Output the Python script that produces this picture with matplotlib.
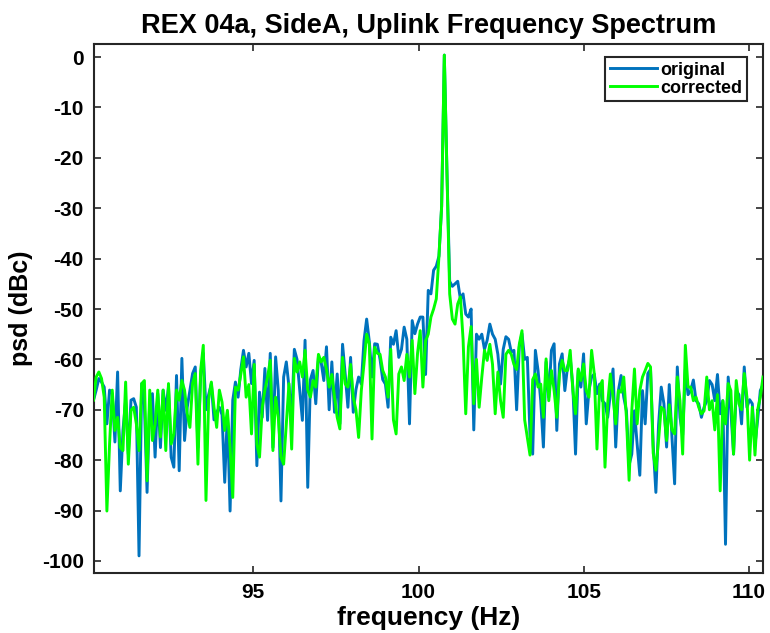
import numpy as np
import matplotlib
matplotlib.use("Agg")
import matplotlib.pyplot as plt

plt.rcParams['font.family'] = ['Liberation Sans', 'DejaVu Sans']
plt.rcParams['font.weight'] = 'bold'
plt.rcParams['axes.unicode_minus'] = False

# ---- data ----
f_start, f_stop = 90.16, 110.43

original = [
    -68.1, -66.1, -63.8, -64.5, -65.5, -72.8, -66.1, -66.8, -76.4, -62.5,
    -86.1, -74.1, -68.1, -78.8, -68.1, -67.8, -69.5, -99.0, -64.8, -68.8,
    -86.4, -68.1, -66.8, -79.4, -66.8, -77.5, -66.1, -70.1, -65.5, -79.4,
    -81.4, -63.2, -82.1, -59.8, -76.1, -69.5, -66.1, -62.8, -61.5, -77.5,
    -63.5, -58.8, -70.0, -67.0,
    -64.8, -72.0, -70.5, -69.5, -71.0, -84.4, -70.5, -90.1, -68.1, -64.5,
    -67.5, -62.0, -58.2, -61.5, -58.8, -64.8, -60.2, -81.1, -66.5, -71.5,
    -61.8, -72.1, -58.8, -77.5, -59.5, -66.1, -88.1, -63.5, -60.5, -65.5,
    -71.5, -58.0, -60.0, -66.1, -72.1, -56.2, -85.4, -64.0, -62.2, -68.8,
    -59.5,
    -60.5, -64.2, -57.5, -70.0, -60.5, -70.5, -62.9, -72.8, -57.0, -63.0,
    -69.5, -59.6, -70.5, -66.0, -63.5, -64.9, -56.3, -52.0, -56.5, -63.5,
    -56.9, -57.0, -60.0, -64.0, -64.9, -69.5, -55.6, -57.0, -54.3, -59.6,
    -58.0, -53.6, -56.0, -72.8, -52.3, -54.9, -53.0, -51.6, -51.6, -63.0,
    -46.3, -47.0, -42.3, -41.5, -39.5, -29.6, 0.4, -23.0, -44.5, -45.5,
    -45.0, -44.5, -48.0,
    -47.0, -51.0, -51.6, -50.0, -74.0, -55.0, -56.0, -55.0, -58.0, -56.2,
    -53.0, -55.0, -56.0, -59.0, -64.9, -58.0, -55.5, -56.0, -58.5, -58.2,
    -70.0, -57.5, -54.9, -60.0, -59.6, -75.0, -78.8, -58.2,
    -62.2, -68.2, -77.4, -60.5, -67.5, -58.2, -56.9, -74.1, -60.9, -58.9,
    -66.2, -61.5, -59.6, -65.5, -78.8, -62.2, -65.5, -58.9, -72.8, -66.2,
    -63.5, -62.9, -66.8, -64.9, -68.2, -68.8, -71.5, -66.8, -61.9, -77.4,
    -66.2, -63.2, -67.5, -70.2, -81.0, -78.8, -70.2, -76.8, -83.0, -66.2,
    -72.8,
    -62.8, -62.0, -77.0, -86.4, -73.0, -65.5, -68.8, -77.4, -65.0, -75.4,
    -84.7, -61.5, -71.5, -75.0, -62.0, -67.0, -66.2, -64.1, -68.2, -68.8,
    -71.5, -69.5, -68.2, -64.2, -65.0, -68.2, -63.0, -70.8, -68.2, -96.7,
    -63.5, -70.2, -78.8, -66.2, -67.0, -72.8, -61.5, -69.5, -68.0, -68.8,
    -77.0, -72.0, -66.2, -65.0,
]

corrected = [
    -68.1, -63.5, -62.5, -63.8, -67.5, -90.1, -76.8, -66.1, -74.1, -71.5,
    -77.5, -78.1, -64.5, -80.8, -70.1, -69.5, -72.8, -78.1, -64.8, -64.2,
    -84.1, -66.1, -76.1, -72.8, -66.1, -75.4, -66.1, -78.1, -64.8, -76.8,
    -74.8, -66.1, -68.1, -64.2, -66.1, -70.8, -73.5, -64.8, -62.8, -80.8,
    -62.2, -57.2, -88.0, -68.0,
    -64.5, -69.5, -73.5, -66.1, -68.5, -74.1, -70.1, -77.5, -87.4, -65.5,
    -66.1, -63.0, -59.5, -67.5, -65.0, -74.8, -61.0, -76.8, -79.4, -69.5,
    -66.1, -63.5, -60.2, -78.1, -67.5, -71.5, -79.4, -80.8, -72.8, -64.8,
    -77.8, -59.8, -62.5, -60.5, -63.5, -58.2, -66.1, -67.5, -64.2, -65.5,
    -59.0,
    -60.5, -59.6, -62.0, -65.5, -63.0, -67.5, -71.5, -73.8, -59.6, -64.9,
    -65.5, -61.0, -67.5, -70.0, -75.5, -66.2, -60.9, -55.0, -57.0, -75.8,
    -57.6, -58.8, -59.0, -62.2, -63.5, -67.5, -58.0, -72.0, -74.8, -62.9,
    -61.5, -64.2, -59.0, -63.5, -56.2, -66.8, -58.8, -54.3, -65.5, -56.3,
    -55.0, -51.6, -50.0, -48.0, -39.5, -29.6, 0.4, -23.0, -47.0, -52.0,
    -53.0, -49.0, -47.6,
    -56.0, -70.8, -57.5, -53.5, -68.8, -60.0, -69.5, -63.5, -58.2, -60.2,
    -57.0, -61.0, -70.8, -62.5, -68.2, -71.5, -59.0, -58.2, -59.0, -61.0,
    -62.0, -57.0, -54.3, -72.0, -75.5, -79.0, -64.0, -62.9,
    -65.5, -64.9, -71.5, -59.9, -68.2, -62.2, -66.2, -71.5, -62.9, -60.2,
    -62.2, -62.2, -58.2, -66.2, -70.8, -61.9, -64.2, -60.9, -66.2, -67.5,
    -58.2, -62.9, -77.8, -65.5, -64.2, -81.4, -68.8, -62.9, -67.5, -72.8,
    -66.2, -66.5, -63.5, -71.5, -84.0, -70.2, -61.9, -72.8, -66.2, -63.5,
    -62.2,
    -60.8, -61.5, -78.6, -82.0, -76.0, -69.5, -70.0, -76.1, -69.0, -74.0,
    -74.8, -63.5, -68.2, -78.8, -57.2, -65.5, -65.5, -68.2, -67.5, -69.5,
    -70.8, -70.2, -63.5, -70.0, -68.2, -74.0, -67.0, -86.1, -68.2, -72.8,
    -64.8, -66.2, -78.8, -64.2, -68.8, -70.0, -62.8, -67.5, -80.0, -69.5,
    -79.0, -70.0, -67.5, -63.5,
]

series_labels = ["original", "corrected"]
x_ticks = [95, 100, 105, 110]
y_ticks = [0, -10, -20, -30, -40, -50, -60, -70, -80, -90, -100]

freq = np.linspace(f_start, f_stop, len(original))

# ---- figure ----
W, H = 770, 633
fig = plt.figure(figsize=(W / 100, H / 100), dpi=100)
L, R, T, B = 93.5, 763, 44, 573
ax = fig.add_axes([L / W, 1 - B / H, (R - L) / W, (B - T) / H])

ax.plot(freq, original, color='#0072BD', lw=2.1, label=series_labels[0], zorder=2)
ax.plot(freq, corrected, color='#00FF00', lw=2.1, label=series_labels[1], zorder=3)

ax.set_xlim(f_start, f_stop)
ax.set_ylim(-102.4, 2.6)
ax.set_xticks(x_ticks)
ax.set_yticks(y_ticks)
ax.tick_params(direction='in', length=5, width=1.2, top=True, right=True,
               labelsize=15, colors='#262626', pad=7)
for lab in ax.get_xticklabels() + ax.get_yticklabels():
    lab.set_fontweight('bold')
    lab.set_color('black')
for s in ax.spines.values():
    s.set_linewidth(1.5)
    s.set_color('#262626')

ax.set_title("REX 04a, SideA, Uplink Frequency Spectrum", fontsize=19.5,
             fontweight='bold', pad=8)
ax.set_xlabel("frequency (Hz)", fontsize=19, fontweight='bold', labelpad=3)
ax.set_ylabel("psd (dBc)", fontsize=18, fontweight='bold', labelpad=6)

leg = ax.legend(loc='upper right',
                bbox_to_anchor=((746.7 - L) / (R - L), (B - 57.3) / (B - T)),
                borderaxespad=0, frameon=True, fancybox=False,
                handlelength=2.6, handletextpad=0.2, borderpad=0.25,
                labelspacing=0.05, prop={'weight': 'bold', 'size': 13})
leg.get_frame().set_edgecolor('#262626')
leg.get_frame().set_linewidth(1.5)
leg.get_frame().set_alpha(1)

fig.savefig("out.png", dpi=100)
